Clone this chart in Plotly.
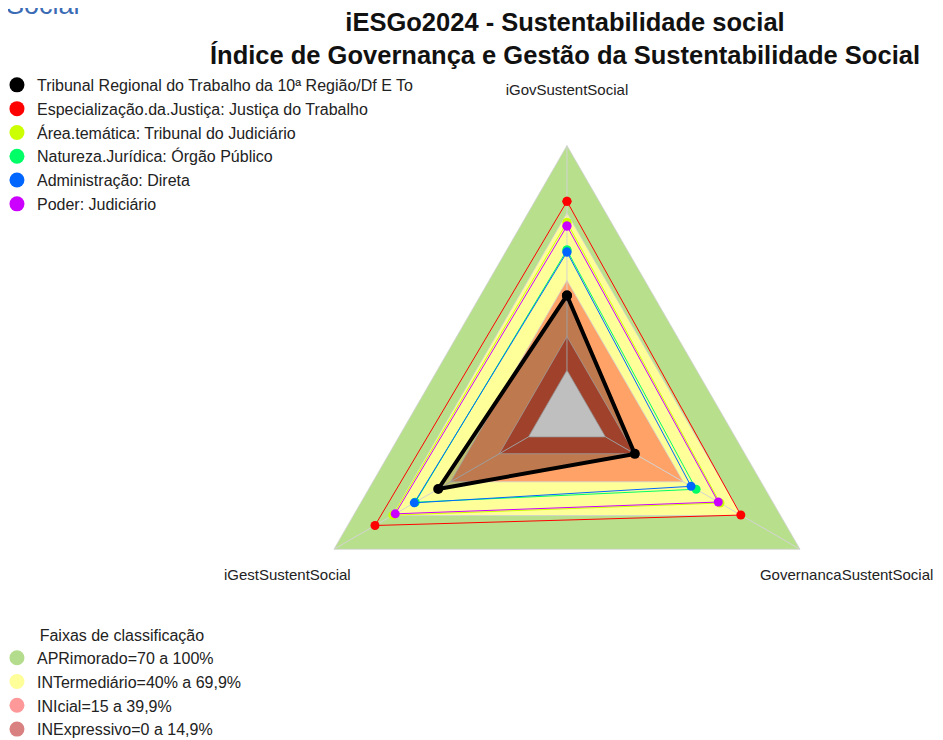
import plotly.graph_objects as go

# axes of the radar (clockwise from the top)
eixos = ["iGovSustentSocial", "GovernancaSustentSocial", "iGestSustentSocial"]

# series values (%), one per axis
nomes = [
    "Tribunal Regional do Trabalho da 10ª Região/Df E To",
    "Especialização.da.Justiça: Justiça do Trabalho",
    "Área.temática: Tribunal do Judiciário",
    "Natureza.Jurídica: Órgão Público",
    "Administração: Direta",
    "Poder: Judiciário",
]
tribunal = [33.3, 15.1, 46.4]
especializacao = [75.2, 69.6, 78.9]
area_tematica = [65.8, 58.9, 69.7]
natureza = [53.5, 46.6, 58.2]
administracao = [52.6, 44.0, 58.7]
poder = [64.2, 58.0, 68.5]
cores = ["#000000", "#FF0000", "#CCFF00", "#00FF66", "#0066FF", "#CC00FF"]

# classification bands (upper limit of each band)
faixas_nomes = ["APRimorado=70 a 100%", "INTermediário=40% a 69,9%",
                "INIcial=15 a 39,9%", "INExpressivo=0 a 14,9%"]
faixas_lim = [100, 70, 40, 15]
faixas_cor = ["#B8E08C", "#FFFF99", "#FFA268", "#D5573A"]
faixas_legenda = ["#B3DD8C", "#FFFF99", "#FF9999", "#D98080"]

fonte = "Liberation Sans, Arial, sans-serif"
r_rotulo = 124


def fechar(v):
    return list(v) + [v[0]]


fig = go.Figure()

# background bands
for lim, cor in zip(faixas_lim, faixas_cor):
    fig.add_trace(go.Scatterpolar(r=fechar([lim] * 3), theta=fechar(eixos),
                                  mode='lines', fill='toself', fillcolor=cor,
                                  line=dict(color='#D0D0D0', width=0.8),
                                  showlegend=False, hoverinfo='skip'))
# empty centre
fig.add_trace(go.Scatterpolar(r=fechar([0] * 3), theta=fechar(eixos),
                              mode='lines', fill='toself', fillcolor='#FFFFFF',
                              line=dict(color='#C8C8C8', width=0.8),
                              showlegend=False, hoverinfo='skip'))
# spokes
for e in eixos:
    fig.add_trace(go.Scatterpolar(r=[0, 100], theta=[e, e], mode='lines',
                                  line=dict(color='#D3D3D3', width=1),
                                  showlegend=False, hoverinfo='skip'))

# series
series = [tribunal, especializacao, area_tematica, natureza, administracao, poder]
for i, (nome, vals, cor) in enumerate(zip(nomes, series, cores)):
    principal = i == 0
    fig.add_trace(go.Scatterpolar(
        r=fechar(vals), theta=fechar(eixos), name=nome,
        mode='lines+markers',
        fill='toself' if principal else None,
        fillcolor='rgba(0,0,0,0.25)' if principal else None,
        line=dict(color=cor, width=4 if principal else 1),
        marker=dict(color=cor, size=10 if principal else 9),
        showlegend=False))

# axis labels
fig.add_trace(go.Scatterpolar(r=[r_rotulo] * 3, theta=eixos, mode='text', text=eixos,
                              textfont=dict(size=15, color='#222222', family=fonte),
                              cliponaxis=False, showlegend=False, hoverinfo='skip'))

# legend entries
for nome, cor in zip(nomes, cores):
    fig.add_trace(go.Scatterpolar(r=[None], theta=[None], name=nome, mode='markers',
                                  marker=dict(color=cor, size=15), legend='legend'))
for nome, cor in zip(faixas_nomes, faixas_legenda):
    fig.add_trace(go.Scatterpolar(r=[None], theta=[None], name=nome, mode='markers',
                                  marker=dict(color=cor, size=15), legend='legend2'))

fig.update_layout(
    width=943, height=740,
    margin=dict(l=0, r=0, t=0, b=0, autoexpand=False),
    paper_bgcolor='white',
    font=dict(family=fonte, size=16, color='#222222'),
    polar=dict(
        domain=dict(x=[0.2479, 0.9376], y=[0.011, 0.8899]),
        bgcolor='rgba(0,0,0,0)',
        gridshape='linear',
        radialaxis=dict(range=[-19.8, 125], visible=False, showgrid=False),
        angularaxis=dict(rotation=90, direction='clockwise', showgrid=False,
                         showline=False, showticklabels=False, ticks=''),
    ),
    legend=dict(x=-0.0117, y=0.919, xanchor='left', yanchor='top',
                bgcolor='rgba(0,0,0,0)', tracegroupgap=0,
                font=dict(size=16, family=fonte, color='#222222')),
    legend2=dict(x=-0.0117, y=0.173, xanchor='left', yanchor='top',
                 bgcolor='rgba(0,0,0,0)',
                 title=dict(text="Faixas de classificação", side='top center',
                            font=dict(size=16, family=fonte, color='#222222')),
                 font=dict(size=16, family=fonte, color='#222222')),
    annotations=[
        dict(text="<b>iESGo2024 - Sustentabilidade social<br>"
                  "Índice de Governança e Gestão da Sustentabilidade Social</b>",
             xref='paper', yref='paper', x=0.5905, y=1, xanchor='center',
             yanchor='top', yshift=2, showarrow=False,
             font=dict(size=25.5, color='#111111', family=fonte)),
        dict(text="Social", xref='paper', yref='paper', x=-0.004, y=1,
             xanchor='left', yanchor='bottom', yshift=-14, showarrow=False,
             font=dict(size=27, color='#3B6BB5', family=fonte)),
    ],
)

fig.write_html("out.html")
